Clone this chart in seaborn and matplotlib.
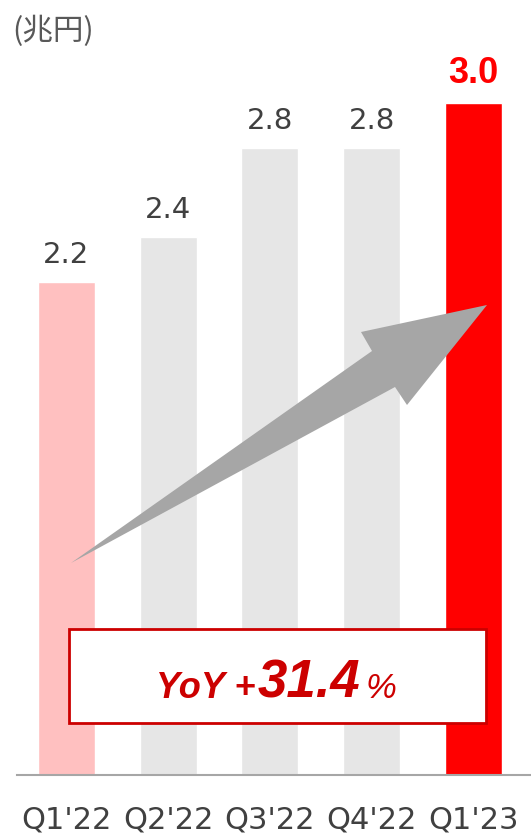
import matplotlib
matplotlib.use("Agg")
import matplotlib.pyplot as plt
import seaborn as sns
from matplotlib.patches import Polygon, Rectangle

quarters = ["Q1'22", "Q2'22", "Q3'22", "Q4'22", "Q1'23"]
values = [2.2, 2.4, 2.8, 2.8, 3.0]
bar_colors = ["#FFC0C0", "#E6E6E6", "#E6E6E6", "#E6E6E6", "#FF0000"]
value_labels = ["2.2", "2.4", "2.8", "2.8", "3.0"]
unit_label = "(兆円)"
yoy_prefix = "YoY +"
yoy_number = "31.4"
yoy_suffix = "%"

sns.set_theme(style="white")
plt.rcParams['font.family'] = ['DejaVu Sans', 'Noto Sans CJK JP']

W, H = 531, 835
fig = plt.figure(figsize=(W / 100, H / 100), dpi=100)

def fx(px):
    return px / W

def fy(py):
    return 1 - py / H

ax = fig.add_axes([fx(17), 60 / H, (W - 17) / W, 775 / H])
sns.barplot(x=quarters, y=values, hue=quarters, palette=bar_colors,
            width=0.56, legend=False, ax=ax, saturation=1)
ax.set_xlim(-0.486, 4.565)
ax.set_ylim(0, 775 / 224)
for s in ["left", "right", "top"]:
    ax.spines[s].set_visible(False)
ax.spines["bottom"].set_color("#A6A6A6")
ax.spines["bottom"].set_linewidth(1.5)
ax.set_yticks([])
ax.set_xlabel("")
ax.set_ylabel("")
ax.tick_params(axis="x", length=0, pad=22, labelsize=22, labelcolor="#404040")

for i, (v, lab) in enumerate(zip(values, value_labels)):
    if i == len(values) - 1:
        ax.annotate(lab, (i, v), xytext=(0, 20), textcoords="offset pixels",
                    ha="center", va="baseline", fontsize=26, fontweight="bold",
                    color="#FF0000", family="Liberation Sans")
    else:
        ax.annotate(lab, (i, v), xytext=(0, 19), textcoords="offset pixels",
                    ha="center", va="baseline", fontsize=21, color="#404040")

# unit label
fig.text(fx(12), fy(40), unit_label, fontsize=22, color="#595959",
         family=["Noto Sans CJK JP", "DejaVu Sans"], va="baseline", ha="left")

# arrow
arrow_px = [(71, 563), (372, 351), (361, 332), (487, 305), (407, 405), (395, 387)]
arrow = Polygon([(fx(x), fy(y)) for x, y in arrow_px], closed=True,
                transform=fig.transFigure, facecolor="#A6A6A6", edgecolor="none",
                zorder=5)
fig.add_artist(arrow)

# YoY box
box = Rectangle((fx(69), fy(723)), fx(486) - fx(69), fy(629) - fy(723),
                transform=fig.transFigure, facecolor="white", edgecolor="#CC0000",
                linewidth=2, zorder=6)
fig.add_artist(box)
tkw = dict(color="#CC0000", family="Liberation Sans",
           fontstyle="italic", va="baseline", ha="left", zorder=7)
fig.text(fx(156), fy(698), yoy_prefix, fontsize=26, fontweight="bold", **tkw)
fig.text(fx(258), fy(698), yoy_number, fontsize=38, fontweight="bold", **tkw)
fig.text(fx(366), fy(698), yoy_suffix, fontsize=25, **tkw)

fig.savefig("out.png", dpi=100)
